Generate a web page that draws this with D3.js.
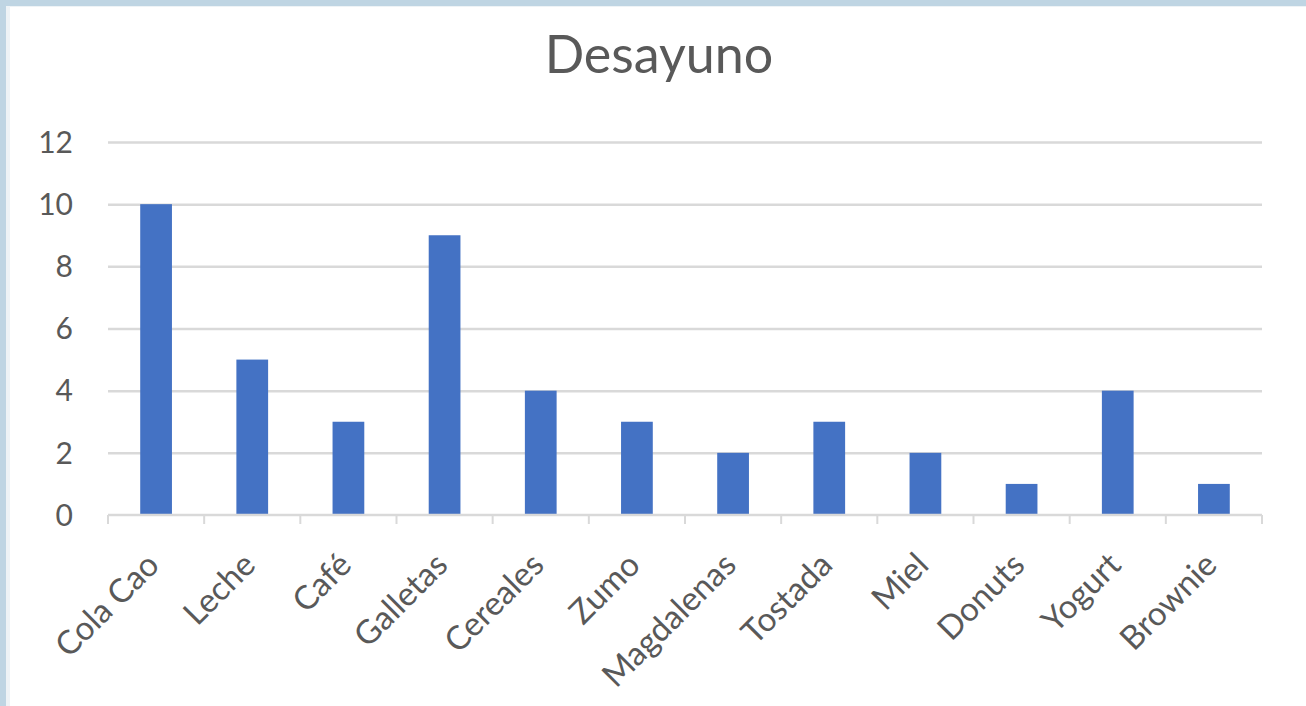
<!DOCTYPE html>
<html>
<head>
<meta charset="utf-8">
<script src="https://cdn.jsdelivr.net/npm/d3@7"></script>
<style>
  body { margin: 0; background: #fff; }
  text { font-family: Lato, "Open Sans", sans-serif; fill: #595959; }
</style>
</head>
<body>
<div id="chart"></div>
<script>
var categories = ["Cola Cao", "Leche", "Café", "Galletas", "Cereales", "Zumo",
                  "Magdalenas", "Tostada", "Miel", "Donuts", "Yogurt", "Brownie"];
var values = [10, 5, 3, 9, 4, 3, 2, 3, 2, 1, 4, 1];
var yTicks = [0, 2, 4, 6, 8, 10, 12];
var title = "Desayuno";

var W = 1306, H = 706;
var margin = { top: 142, right: 44, bottom: 191, left: 108 },
    width = W - margin.left - margin.right,
    height = H - margin.top - margin.bottom;

var svg = d3.select("#chart").append("svg")
    .attr("width", W)
    .attr("height", H);

// frame strip along top and left
svg.append("rect").attr("width", W).attr("height", H).attr("fill", "#bfd5e3");
svg.append("rect").attr("x", 6).attr("y", 6).attr("width", W).attr("height", H).attr("fill", "#eef3f6");
svg.append("rect").attr("x", 10).attr("y", 7).attr("width", W).attr("height", H).attr("fill", "#ffffff");

var g = svg.append("g")
    .attr("transform", "translate(" + margin.left + "," + margin.top + ")");

var x = d3.scaleBand()
    .domain(categories)
    .range([0, width])
    .paddingInner(0.67)
    .paddingOuter(0.335);

var y = d3.scaleLinear()
    .domain([0, 12])
    .range([height, 0]);

// gridlines
g.append("g")
    .attr("class", "grid")
    .call(d3.axisLeft(y).tickValues(yTicks.slice(1)).tickSize(-width).tickFormat(""))
    .call(s => s.select(".domain").remove())
    .call(s => s.selectAll("line").attr("stroke", "#d9d9d9").attr("stroke-width", 2.5));

// y labels
g.selectAll(".ylab")
    .data(yTicks)
    .enter().append("text")
    .attr("class", "ylab")
    .attr("x", -35)
    .attr("y", d => y(d))
    .attr("dy", "0.36em")
    .attr("text-anchor", "end")
    .style("font-size", "30px")
    .text(d => d);

// bars
g.selectAll(".bar")
    .data(values)
    .enter().append("rect")
    .attr("class", "bar")
    .attr("x", (d, i) => x(categories[i]))
    .attr("y", d => y(d))
    .attr("width", x.bandwidth())
    .attr("height", d => height - y(d))
    .attr("fill", "#4472c4");

// x axis line and ticks at category boundaries
var step = x.step();
var bounds = d3.range(categories.length + 1);
g.append("line")
    .attr("x1", 0).attr("x2", width)
    .attr("y1", height).attr("y2", height)
    .attr("stroke", "#d9d9d9").attr("stroke-width", 2.5);
g.selectAll(".xtick")
    .data(bounds)
    .enter().append("line")
    .attr("x1", d => d * step).attr("x2", d => d * step)
    .attr("y1", height).attr("y2", height + 9)
    .attr("stroke", "#d9d9d9").attr("stroke-width", 2);

// x labels rotated
g.selectAll(".xlab")
    .data(categories)
    .enter().append("text")
    .attr("class", "xlab")
    .attr("text-anchor", "end")
    .attr("transform", d => "translate(" + (x(d) + x.bandwidth() / 2 + 5) + "," + (height + 52) + ") rotate(-45)")
    .style("font-size", "33px")
    .text(d => d);

// title
svg.append("text")
    .attr("x", 659)
    .attr("y", 73)
    .attr("text-anchor", "middle")
    .style("font-size", "52px")
    .text(title);
</script>
</body>
</html>
